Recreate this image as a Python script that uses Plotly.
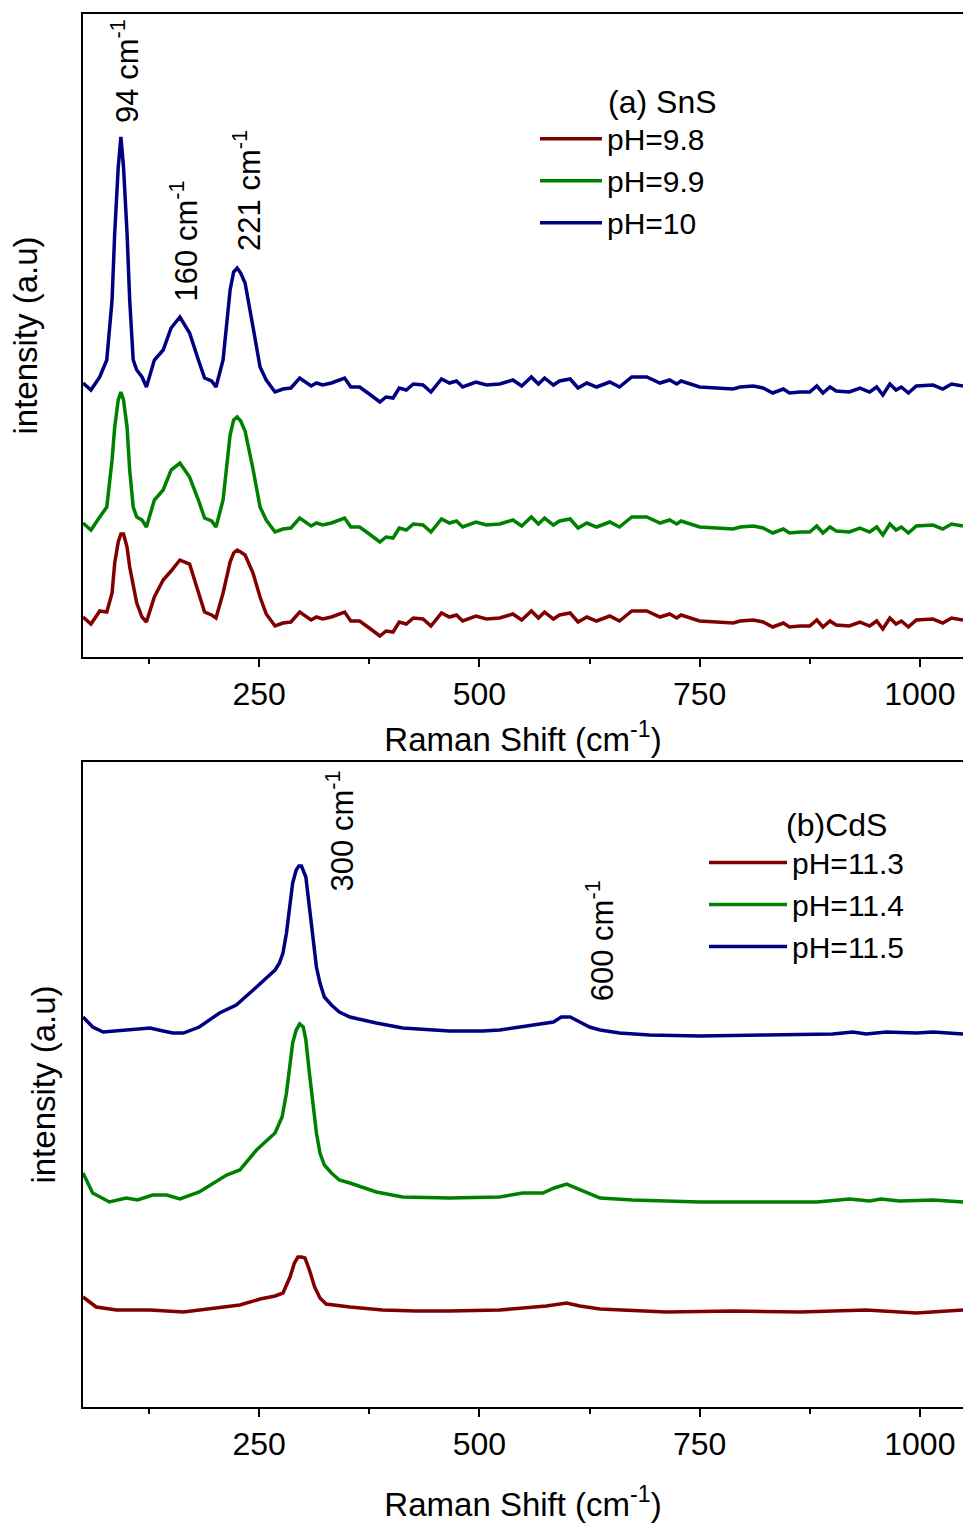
import plotly.graph_objects as go

# ---------------- (a) SnS ----------------
x_sns = [50, 59, 69, 77, 83, 86, 90, 93, 96, 100, 103, 107, 111, 117, 122, 131, 141, 150, 160, 171,
         181, 188, 196, 201, 209, 217, 221, 225, 229, 234, 243, 251, 258, 268, 277, 286, 296, 309, 315, 322,
         332, 347, 354, 364, 375, 387, 394, 402, 409, 417, 425, 436, 445, 457, 466, 474, 481, 496, 508, 523,
         538, 548, 559, 567, 574, 584, 591, 603, 612, 622, 633, 648, 659, 673, 690, 705, 716, 724, 729, 741,
         750, 769, 788, 796, 811, 822, 833, 845, 852, 864, 875, 883, 890, 898, 905, 920, 932, 943, 951, 958,
         966, 973, 979, 987, 996, 1015, 1026, 1036, 1049]

sns_ph10 = [274, 267, 280, 297, 357, 424, 490, 520, 490, 424, 357, 297, 287, 280, 270, 297, 307, 329, 340, 324,
            297, 279, 276, 270, 297, 367, 385, 389, 384, 374, 330, 290, 277, 265, 268, 269, 279, 271, 274, 272,
            274, 279, 270, 270, 263, 255, 260, 259, 269, 267, 273, 272, 265, 278, 274, 276, 270, 275, 272, 273,
            277, 271, 280, 273, 279, 272, 276, 278, 269, 274, 270, 275, 270, 280, 280, 274, 277, 273, 276, 273,
            270, 269, 268, 270, 271, 269, 264, 268, 264, 265, 265, 271, 264, 270, 266, 265, 269, 265, 270, 262,
            273, 267, 270, 264, 271, 272, 268, 273, 271]

sns_ph99 = [134, 127, 140, 150, 197, 230, 257, 265, 257, 230, 187, 150, 140, 137, 130, 157, 167, 187, 194, 180,
            157, 139, 136, 130, 157, 222, 237, 240, 236, 226, 188, 150, 137, 125, 128, 129, 139, 131, 134, 132,
            134, 139, 130, 130, 123, 115, 120, 119, 129, 127, 133, 132, 125, 138, 134, 136, 130, 135, 132, 133,
            137, 131, 140, 133, 139, 132, 136, 138, 129, 134, 130, 135, 130, 140, 140, 134, 137, 133, 136, 133,
            130, 129, 128, 130, 131, 129, 124, 128, 124, 125, 125, 131, 124, 130, 126, 125, 129, 125, 130, 122,
            133, 127, 130, 124, 131, 132, 128, 133, 131]

sns_ph98 = [40, 33, 46, 45, 64, 94, 115, 123, 123, 110, 90, 70, 54, 40, 35, 60, 77, 86, 97, 93,
            64, 45, 42, 39, 64, 95, 104, 107, 105, 102, 84, 60, 43, 31, 34, 35, 45, 37, 40, 38,
            40, 45, 36, 36, 29, 21, 26, 25, 35, 33, 39, 38, 31, 44, 40, 42, 36, 41, 38, 39,
            43, 37, 46, 39, 45, 38, 42, 44, 35, 40, 36, 41, 36, 46, 46, 40, 43, 39, 42, 39,
            36, 35, 34, 36, 37, 35, 30, 34, 30, 31, 31, 37, 30, 36, 32, 31, 35, 31, 36, 28,
            39, 33, 36, 30, 37, 38, 34, 39, 37]

# ---------------- (b) CdS ----------------
x_cds_115 = [50, 61, 73, 95, 126, 141, 152, 164, 182, 205, 224, 247, 268, 273, 277, 281, 285, 288, 292, 295,
             298, 303, 307, 311, 315, 319, 324, 332, 341, 353, 383, 413, 466, 504, 523, 546, 569, 584, 593, 603,
             614, 625, 637, 659, 693, 750, 826, 901, 924, 939, 962, 996, 1015, 1049]
cds_ph115 = [390, 380, 375, 377, 379, 376, 374, 374, 380, 394, 402, 420, 437, 444, 454, 474, 500, 524, 537, 541,
             541, 530, 500, 467, 440, 424, 410, 402, 395, 390, 384, 379, 376, 376, 377, 380, 383, 385, 390, 390,
             385, 380, 377, 374, 372, 371, 372, 373, 375, 373, 375, 374, 375, 373]

x_cds_114 = [50, 61, 80, 99, 112, 129, 145, 160, 182, 213, 228, 247, 268, 276, 281, 285, 288, 292, 296, 300,
             303, 307, 311, 315, 319, 324, 332, 341, 353, 383, 413, 466, 523, 549, 572, 585, 599, 610, 622, 637,
             674, 750, 826, 883, 920, 943, 956, 977, 1015, 1049]
cds_ph114 = [234, 214, 205, 209, 207, 212, 212, 208, 215, 232, 237, 257, 274, 290, 314, 340, 364, 377, 383, 380,
             367, 334, 300, 274, 254, 242, 234, 227, 224, 215, 210, 209, 210, 214, 214, 219, 223, 219, 214, 209,
             207, 205, 205, 205, 208, 206, 208, 206, 207, 205]

x_cds_113 = [50, 65, 88, 126, 164, 201, 228, 251, 268, 277, 285, 290, 294, 298, 302, 307, 313, 319, 326, 353,
             390, 428, 466, 523, 549, 576, 599, 614, 637, 712, 788, 864, 939, 996, 1049]
cds_ph113 = [110, 100, 97, 97, 95, 99, 102, 108, 111, 114, 130, 144, 150, 150, 149, 137, 120, 109, 103, 100,
             97, 96, 96, 97, 99, 101, 104, 101, 98, 95, 96, 95, 97, 94, 97]

x_ticks = [250, 500, 750, 1000]
x_minor = [125, 375, 625, 875]

RED, GREEN, BLUE = "#800000", "#008000", "#000080"
FONT = "Liberation Sans, Arial, sans-serif"

fig = go.Figure()
lw = 3.5
fig.add_trace(go.Scatter(x=x_sns, y=sns_ph98, mode="lines", name="pH=9.8",
                         line=dict(color=RED, width=lw), xaxis="x", yaxis="y", legend="legend"))
fig.add_trace(go.Scatter(x=x_sns, y=sns_ph99, mode="lines", name="pH=9.9",
                         line=dict(color=GREEN, width=lw), xaxis="x", yaxis="y", legend="legend"))
fig.add_trace(go.Scatter(x=x_sns, y=sns_ph10, mode="lines", name="pH=10",
                         line=dict(color=BLUE, width=lw), xaxis="x", yaxis="y", legend="legend"))
fig.add_trace(go.Scatter(x=x_cds_113, y=cds_ph113, mode="lines", name="pH=11.3",
                         line=dict(color=RED, width=lw), xaxis="x2", yaxis="y2", legend="legend2"))
fig.add_trace(go.Scatter(x=x_cds_114, y=cds_ph114, mode="lines", name="pH=11.4",
                         line=dict(color=GREEN, width=lw), xaxis="x2", yaxis="y2", legend="legend2"))
fig.add_trace(go.Scatter(x=x_cds_115, y=cds_ph115, mode="lines", name="pH=11.5",
                         line=dict(color=BLUE, width=lw), xaxis="x2", yaxis="y2", legend="legend2"))

xa = dict(range=[50, 1049], tickvals=x_ticks, ticks="outside", ticklen=8, tickwidth=2,
          tickcolor="black", showline=True, linecolor="black", linewidth=2, mirror=True,
          showgrid=False, zeroline=False, tickfont=dict(size=32, color="black"),
          minor=dict(tickvals=x_minor, ticks="outside", ticklen=5, tickwidth=1.5, tickcolor="black"),
          automargin=False)
ya = dict(showticklabels=False, ticks="", showline=True, linecolor="black", linewidth=2,
          mirror=False, showgrid=False, zeroline=False, automargin=False)

fig.update_layout(
    width=963, height=1523,
    margin=dict(l=83, r=0, t=14, b=116, autoexpand=False),
    paper_bgcolor="white", plot_bgcolor="white",
    font=dict(family=FONT, color="black", size=32),
    xaxis=dict(xa, anchor="y", domain=[0, 1],
               title=dict(text="Raman Shift (cm<sup>-1</sup>)", font=dict(size=33), standoff=16)),
    yaxis=dict(ya, anchor="x", domain=[0.5384, 1], range=[0, 643],
               title=dict(text="intensity (a.u)", font=dict(size=33), standoff=33)),
    xaxis2=dict(xa, anchor="y2", domain=[0, 1],
                title=dict(text="Raman Shift (cm<sup>-1</sup>)", font=dict(size=33), standoff=31)),
    yaxis2=dict(ya, anchor="x2", domain=[0, 0.4630], range=[0, 645],
                title=dict(text="intensity (a.u)", font=dict(size=33), standoff=15)),
    legend=dict(x=0.5136, y=0.9590, xanchor="left", yanchor="top", bgcolor="rgba(0,0,0,0)",
                font=dict(size=30), itemwidth=62, tracegroupgap=0,
                title=dict(text="\u00a0" * 8 + "(a) SnS", font=dict(size=32), side="top")),
    legend2=dict(x=0.7057, y=0.4395, xanchor="left", yanchor="top", bgcolor="rgba(0,0,0,0)",
                 font=dict(size=30), itemwidth=78, tracegroupgap=0,
                 title=dict(text="\u00a0" * 9 + "(b)CdS", font=dict(size=32), side="top")),
    showlegend=True,
)

ann_font = dict(size=31, color="black", family=FONT)
anns = [
    ("94 cm<sup>-1</sup>", 97.6, 532, "x", "y"),
    ("160 cm<sup>-1</sup>", 164.6, 354, "x", "y"),
    ("221 cm<sup>-1</sup>", 235.5, 404, "x", "y"),
    ("300 cm<sup>-1</sup>", 341.6, 514, "x2", "y2"),
    ("600 cm<sup>-1</sup>", 636.6, 404, "x2", "y2"),
]
for text, ax_, ay_, xr, yr in anns:
    fig.add_annotation(text=text, x=ax_, y=ay_, xref=xr, yref=yr, textangle=-90,
                       showarrow=False, xanchor="center", yanchor="bottom", font=ann_font)

fig.write_html("out.html")
